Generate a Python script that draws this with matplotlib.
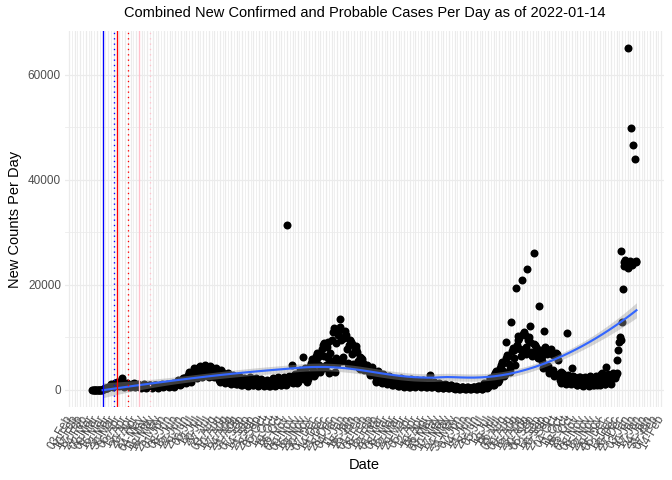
import numpy as np
import pandas as pd
import matplotlib
matplotlib.use("Agg")
import matplotlib.pyplot as plt
import matplotlib.dates as mdates

plt.rcParams['font.family'] = ['Liberation Sans', 'DejaVu Sans']

# ---------------- data (daily counts) ----------------
start_date = "2020-03-03"
title_text = "Combined New Confirmed and Probable Cases Per Day as of 2022-01-14"

cases_spring_2020 = [
    1, 2, 3, 6, 2, 5, 9,
    12, 20, 30, 45, 35, 60, 120,
    180, 240, 320, 420, 380, 300, 560,
    650, 720, 900, 1050, 800, 600, 1200,
    1250, 1100, 1400, 1500, 900, 700, 1100,
    1300, 1700, 2200, 1200, 800, 600, 900,
    1100, 1350, 900, 1200, 700, 500, 800,
    1000, 1100, 900, 1300, 800, 600, 700,
    900, 1000, 1100, 850, 600, 450, 700,
    800, 950, 1100, 1000, 650, 420, 650,
    750, 900, 850, 1000, 600, 400, 700,
    800, 900, 950, 850, 550, 400, 500,
    700, 850, 1000, 900, 1050, 600, 700,
]
cases_summer_2020 = [
    850, 1000, 900, 1100, 700, 500, 800,
    900, 1050, 1200, 1400, 800, 600, 1000,
    1100, 1300, 1600, 1800, 1100, 900, 1200,
    1500, 1900, 2200, 2300, 1700, 1300, 1800,
    2400, 2800, 3400, 2600, 2000, 1600, 2300,
    3000, 3600, 4200, 3900, 3100, 2200, 2700,
    3500, 4300, 4600, 4100, 3400, 2500, 2800,
    3700, 4700, 4400, 4200, 3600, 2600, 2500,
    3900, 4500, 4300, 4000, 3500, 2400, 2600,
    3300, 4100, 3800, 3600, 3000, 1800, 1500,
    3000, 3700, 3400, 3100, 2600, 1600, 1300,
    2700, 3000, 3200, 2800, 2300, 1400, 1200,
    2400, 2800, 2600, 2500, 2000, 1200, 1100,
]
cases_fall_2020 = [
    2300, 2500, 2600, 2200, 1700, 1000, 900,
    1800, 2200, 2000, 1900, 1400, 900, 800,
    1900, 2100, 2400, 1800, 1300, 850, 1000,
    1700, 2000, 2200, 1600, 1200, 800, 900,
    1500, 1800, 2000, 1700, 1100, 750, 900,
    1400, 1700, 1900, 1600, 1000, 700, 800,
    1500, 1800, 2200, 1700, 1200, 800, 1000,
    1600, 1900, 2400, 2000, 1300, 900, 1000,
    1800, 2200, 2500, 2100, 1400, 1000, 31500,
    2000, 2400, 2700, 2300, 1500, 4700, 1300,
    2300, 2800, 3100, 2600, 1800, 1300, 1600,
    2800, 3400, 3700, 3200, 2300, 6200, 2000,
    3600, 4200, 2200, 1500, 3100, 2100, 2600,
]
cases_winter_2021 = [
    4500, 5200, 5800, 4900, 3800, 2700, 3000,
    5600, 6400, 7000, 6200, 4800, 3400, 3600,
    6600, 7700, 8600, 9000, 6500, 4200, 4800,
    8200, 9200, 6000, 3200, 7000, 5200, 5500,
    9500, 11000, 11800, 3500, 9000, 6000, 5000,
    10500, 11500, 13500, 12000, 9500, 5500, 6200,
    10000, 9800, 11200, 10500, 7800, 5200, 5000,
    8500, 9600, 9200, 8700, 6800, 5000, 4800,
    7600, 8400, 7800, 7200, 5600, 4200, 4000,
    6300, 6000, 5800, 5200, 4300, 3800, 3900,
    4500, 4800, 4400, 4000, 3500, 2800, 3000,
    3800, 4400, 3600, 3300, 2700, 1700, 1500,
    3000, 3600, 3200, 2800, 2200, 1500, 1400,
]
cases_spring_2021 = [
    2700, 3000, 2800, 2500, 1900, 1300, 1200,
    2200, 2600, 2400, 2100, 1500, 1000, 900,
    1800, 2100, 2000, 1700, 1300, 800, 700,
    1600, 1900, 2200, 1500, 1100, 700, 600,
    1500, 1800, 1700, 1400, 1000, 650, 600,
    1500, 2000, 1800, 1400, 1000, 700, 650,
    1600, 1900, 1700, 1500, 1100, 700, 600,
    1400, 1800, 1600, 1400, 1000, 650, 550,
    1300, 1700, 1600, 2900, 950, 600, 500,
    1200, 1500, 1400, 1200, 900, 550, 450,
    1000, 1300, 1200, 1000, 750, 450, 400,
    900, 1100, 1000, 850, 600, 380, 350,
    700, 900, 850, 700, 450, 300, 250,
]
cases_summer_2021 = [
    450, 700, 600, 550, 400, 250, 200,
    450, 600, 550, 500, 350, 200, 180,
    400, 550, 500, 450, 300, 200, 150,
    450, 600, 550, 500, 350, 220, 200,
    600, 750, 800, 650, 400, 250, 200,
    1000, 1300, 1200, 1100, 700, 450, 500,
    1600, 2000, 2200, 1900, 1400, 900, 1000,
    2800, 3300, 3600, 3100, 2200, 1500, 1800,
    4200, 4800, 5300, 4900, 3600, 2600, 3000,
    6000, 9200, 6700, 6400, 5000, 3400, 4000,
    13000, 7400, 8000, 7600, 6000, 4800, 19500,
    8600, 9500, 10200, 9800, 7800, 6400, 7400,
    21000, 10600, 11100, 10500, 8200, 6800, 23100,
]
cases_fall_2021 = [
    9500, 10000, 9200, 12100, 7200, 6500, 7000,
    8800, 26000, 8600, 8200, 7400, 6200, 6000,
    15900, 7600, 7000, 6500, 5500, 4200, 11300,
    7900, 8200, 7500, 6900, 4500, 3200, 3600,
    7400, 7700, 7100, 6700, 3800, 2600, 3000,
    7000, 6800, 6700, 5700, 3000, 1900, 1300,
    3500, 3200, 3000, 2800, 1900, 1300, 1100,
    10800, 2900, 2600, 2400, 1600, 1100, 4100,
    2500, 2700, 2500, 2300, 1500, 1000, 900,
    2300, 2500, 2400, 2100, 1400, 900, 800,
    2200, 2400, 2300, 2000, 1300, 850, 800,
    2300, 2600, 2500, 2200, 1500, 1000, 900,
    2400, 2700, 1200, 900, 1800, 1100, 1000,
]
cases_omicron = [
    2600, 3000, 3300, 2800, 1900, 1200, 1100,
    4400, 2600, 3000, 2700, 1800, 1300, 1200,
    2500, 2800, 3200, 3000, 2200, 2800, 3200,
    5700, 7600, 9200, 10000, 9500, 26400, 13000,
    19300, 24400, 23600, 24800, 23900, 24200, 23300,
    65100, 24300, 24600, 49900, 24100, 23800, 46700,
    24400, 43900, 24500, 24300,
]

# intervention dates (solid) and the same dates + 14 days (dotted)
event_dates = ["2020-03-16", "2020-04-03", "2020-05-01"]
event_colors = ["#0000FF", "#FF0000", "#FFC0CB"]
lag_days = 14
smooth_from = "2020-03-16"

# ---------------- assemble ----------------
counts = np.array(cases_spring_2020 + cases_summer_2020 + cases_fall_2020 +
                  cases_winter_2021 + cases_spring_2021 + cases_summer_2021 +
                  cases_fall_2021 + cases_omicron, dtype=float)
dates = pd.date_range(start_date, periods=len(counts), freq="D")
xnum = mdates.date2num(dates.to_pydatetime())

# ---------------- loess (span .75, degree 2) with 95% band ----------------
mask = dates >= pd.Timestamp(smooth_from)
xs = xnum[mask]
ys = counts[mask]
n = len(xs)
q = int(np.floor(0.75 * n))


def lvec(x0):
    dist = np.abs(xs - x0)
    h = np.sort(dist)[q - 1]
    w = np.clip(1 - (dist / h) ** 3, 0, None) ** 3
    X = np.column_stack([np.ones(n), xs - x0, (xs - x0) ** 2])
    W = X.T * w
    A = W @ X
    return np.linalg.solve(A, W)[0]


L = np.array([lvec(v) for v in xs])
resid = ys - L @ ys
IL = np.eye(n) - L
delta1 = np.trace(IL.T @ IL)
sigma2 = resid @ resid / delta1
xe = np.linspace(xs.min(), xs.max(), 80)
Le = np.array([lvec(v) for v in xe])
fit = Le @ ys
se = np.sqrt(sigma2 * (Le ** 2).sum(axis=1))
tq = 1.964
lo, hi = fit - tq * se, fit + tq * se

# ---------------- figure ----------------
W_PX, H_PX = 672, 480
DPI = 96
fig = plt.figure(figsize=(W_PX / DPI, H_PX / DPI), dpi=DPI)
pl, pr, pt, pb = 65, 664, 31, 407
ax = fig.add_axes([pl / W_PX, 1 - pb / H_PX, (pr - pl) / W_PX, (pb - pt) / H_PX])

grid_col = "#EBEBEB"
txt_col = "#4D4D4D"

# limits with 5% expansion
xr = xnum.max() - xnum.min()
ax.set_xlim(xnum.min() - 0.05 * xr, xnum.max() + 0.05 * xr)
yr = counts.max() - counts.min()
ax.set_ylim(counts.min() - 0.05 * yr, counts.max() + 0.05 * yr)

# ticks
ax.xaxis.set_major_locator(mdates.WeekdayLocator(byweekday=mdates.MO))
ax.xaxis.set_major_formatter(mdates.DateFormatter("%d-%b"))
majors = ax.get_xticks()
ax.set_xticks(majors + 3.5, minor=True)
ax.set_yticks([0, 20000, 40000, 60000])
ax.set_yticks([10000, 30000, 50000], minor=True)
ax.set_yticklabels(["0", "20000", "40000", "60000"])

ax.grid(which="major", color=grid_col, lw=0.9, zorder=0)
ax.grid(which="minor", color=grid_col, lw=0.6, zorder=0)
ax.set_axisbelow(True)
for s in ax.spines.values():
    s.set_visible(False)
ax.tick_params(which="both", length=0)
ax.tick_params(axis="y", labelsize=8.8, labelcolor=txt_col, pad=3)
ax.tick_params(axis="x", labelsize=8.8, labelcolor=txt_col, pad=7)
for lab in ax.get_xticklabels():
    lab.set_rotation(60)
    lab.set_ha("right")
    lab.set_va("center")
    lab.set_rotation_mode("anchor")

# points
ax.scatter(xnum, counts, s=36, color="black", linewidths=0, zorder=2)

# smooth
ax.fill_between(xe, lo, hi, color="#999999", alpha=0.4, linewidth=0, zorder=3)
ax.plot(xe, fit, color="#3366FF", lw=1.6, zorder=4)

# vertical lines
for d, c in zip(event_dates, event_colors):
    x0 = mdates.date2num(pd.Timestamp(d).to_pydatetime())
    x1 = mdates.date2num((pd.Timestamp(d) + pd.Timedelta(days=lag_days)).to_pydatetime())
    ax.axvline(x0, color=c, lw=1.0, zorder=5)
    ax.axvline(x1, color=c, lw=1.0, ls=(0, (1, 3)), zorder=5)

# texts
fig.text((pl + pr) / 2 / W_PX, 1 - 13 / H_PX, title_text, ha="center", va="center",
         fontsize=11, color="black")
fig.text((pl + pr) / 2 / W_PX, 1 - 465 / H_PX, "Date", ha="center", va="center",
         fontsize=11, color="black")
fig.text(15 / W_PX, 1 - (pt + pb) / 2 / H_PX, "New Counts Per Day", ha="center",
         va="center", rotation=90, fontsize=11, color="black")

fig.savefig("out.png", dpi=DPI)
